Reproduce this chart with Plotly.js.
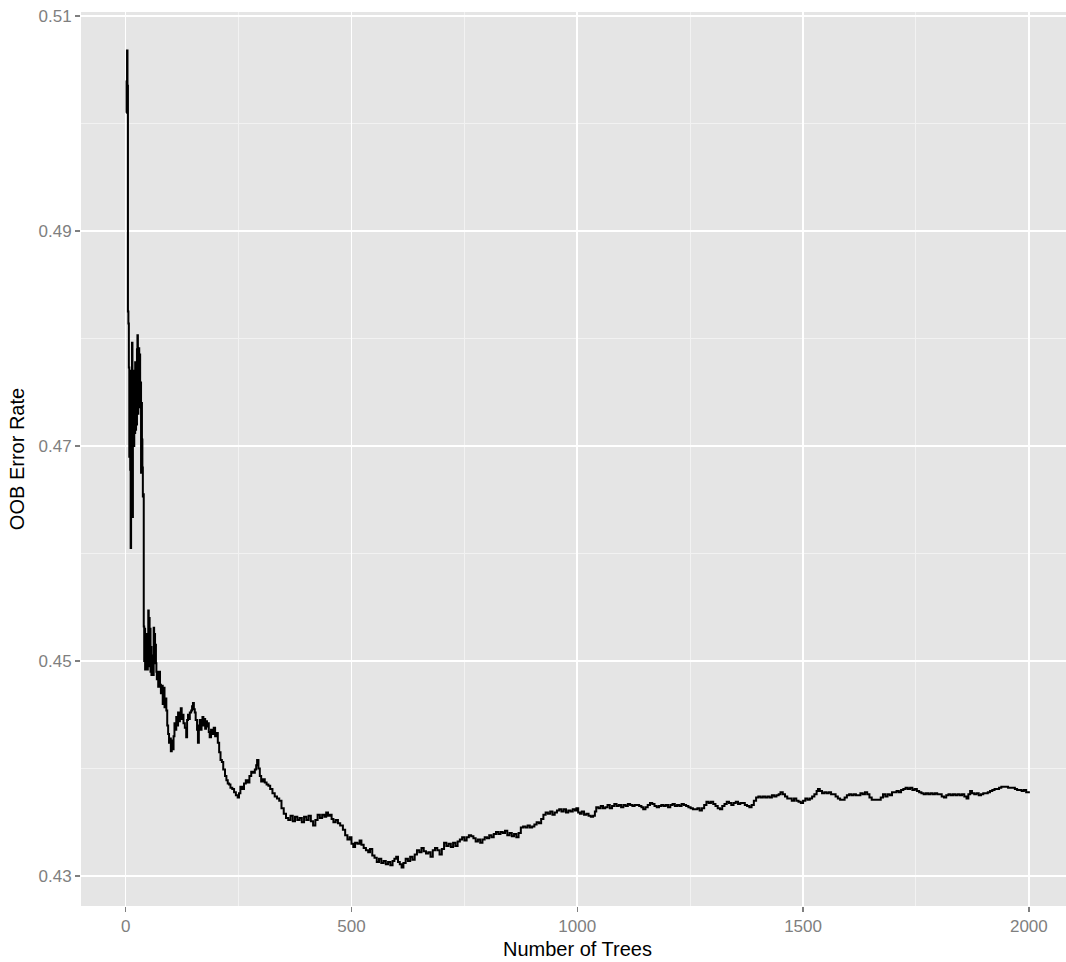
<!DOCTYPE html>
<html>
<head>
<meta charset="utf-8">
<script src="https://cdn.plot.ly/plotly-3.0.1.min.js"></script>
<style>
html, body { margin: 0; padding: 0; overflow: hidden; background: #ffffff; }
#chart { width: 1074px; height: 962px; }
</style>
</head>
<body>
<div id="chart"></div>
<script>
// Number of trees (x)
const trees = [
  1, 2, 3, 4, 5, 6, 7, 8, 9, 10,
  11, 12, 13, 14, 15, 16, 17, 18, 19, 20,
  21, 22, 23, 24, 25, 26, 27, 28, 29, 30,
  31, 32, 33, 34, 35, 36, 37, 38, 39, 40,
  41, 42, 43, 44, 45, 46, 47, 48, 49, 50,
  51, 52, 53, 54, 55, 56, 57, 58, 59, 60,
  61, 62, 63, 64, 65, 66, 67, 68, 69, 70,
  72, 74, 76, 78, 80, 82, 84, 86, 88, 90,
  92, 94, 96, 98, 100, 102, 104, 106, 108, 110,
  112, 114, 116, 118, 120, 122, 124, 126, 128, 131,
  134, 136, 138, 140, 142, 145, 147, 149, 151, 153,
  155, 158, 160, 162, 164, 166, 168, 170, 172, 174,
  176, 178, 180, 182, 184, 186, 189, 192, 195, 198,
  201, 204, 207, 210, 213, 216, 220, 223, 226, 229,
  232, 236, 240, 244, 248, 251, 254, 258, 262, 266,
  270, 274, 278, 282, 286, 289, 291, 294, 297, 300,
  304, 308, 312, 316, 320, 325, 330, 335, 340, 345,
  350, 355, 360, 365, 370, 375, 380, 385, 390, 395,
  400, 405, 410, 415, 420, 425, 430, 435, 440, 444,
  448, 452, 456, 460, 465, 470, 475, 481, 486, 491,
  496, 500, 504, 508, 513, 518, 522, 527, 532, 537,
  541, 546, 551, 556, 561, 566, 571, 576, 581, 586,
  591, 595, 599, 603, 607, 611, 615, 620, 625, 630,
  635, 640, 645, 650, 655, 660, 665, 670, 675, 680,
  685, 690, 695, 700, 705, 710, 715, 720, 725, 730,
  735, 740, 745, 750, 755, 760, 765, 770, 775, 780,
  785, 790, 795, 800, 805, 810, 815, 820, 825, 830,
  835, 840, 845, 850, 855, 860, 865, 870, 875, 880,
  885, 890, 895, 900, 905, 910, 915, 920, 925, 930,
  935, 940, 945, 950, 955, 960, 965, 970, 975, 980,
  985, 990, 995, 998, 1002, 1006, 1010, 1015, 1020, 1025,
  1030, 1035, 1039, 1042, 1047, 1052, 1057, 1062, 1067, 1072,
  1077, 1082, 1087, 1092, 1097, 1102, 1107, 1112, 1117, 1122,
  1127, 1132, 1137, 1142, 1146, 1151, 1156, 1161, 1166, 1171,
  1176, 1181, 1186, 1191, 1196, 1201, 1206, 1211, 1216, 1221,
  1226, 1231, 1236, 1241, 1246, 1251, 1256, 1261, 1266, 1271,
  1276, 1281, 1286, 1291, 1296, 1301, 1306, 1311, 1316, 1321,
  1326, 1331, 1336, 1341, 1346, 1351, 1356, 1361, 1366, 1371,
  1376, 1381, 1386, 1391, 1396, 1401, 1406, 1411, 1416, 1421,
  1426, 1431, 1436, 1441, 1446, 1450, 1455, 1460, 1465, 1470,
  1475, 1480, 1485, 1490, 1495, 1500, 1505, 1510, 1515, 1520,
  1525, 1530, 1533, 1537, 1542, 1547, 1552, 1557, 1562, 1567,
  1572, 1577, 1582, 1587, 1592, 1597, 1602, 1607, 1612, 1617,
  1622, 1627, 1632, 1637, 1642, 1647, 1652, 1657, 1662, 1667,
  1672, 1677, 1682, 1687, 1692, 1697, 1702, 1707, 1712, 1717,
  1722, 1727, 1732, 1737, 1742, 1747, 1752, 1757, 1762, 1767,
  1772, 1777, 1782, 1787, 1792, 1797, 1802, 1807, 1812, 1817,
  1822, 1827, 1832, 1837, 1842, 1847, 1852, 1857, 1862, 1866,
  1870, 1874, 1879, 1884, 1889, 1894, 1899, 1904, 1909, 1914,
  1919, 1924, 1929, 1934, 1939, 1944, 1949, 1954, 1959, 1964,
  1969, 1974, 1979, 1984, 1989, 1994, 2000
];

// OOB error rate (y)
const oobError = [
  0.5010, 0.5039, 0.5068, 0.5035, 0.4825, 0.4814, 0.4773, 0.4690, 0.4770, 0.4678,
  0.4605, 0.4740, 0.4685, 0.4796, 0.4634, 0.4720, 0.4760, 0.4700, 0.4770, 0.4712,
  0.4778, 0.4715, 0.4775, 0.4720, 0.4790, 0.4803, 0.4730, 0.4780, 0.4791, 0.4740,
  0.4785, 0.4736, 0.4759, 0.4675, 0.4740, 0.4706, 0.4680, 0.4653, 0.4655, 0.4532,
  0.4500, 0.4530, 0.4492, 0.4520, 0.4495, 0.4525, 0.4500, 0.4492, 0.4510, 0.4547,
  0.4500, 0.4540, 0.4495, 0.4530, 0.4490, 0.4513, 0.4487, 0.4505, 0.4490, 0.4500,
  0.4487, 0.4531, 0.4500, 0.4525, 0.4498, 0.4515, 0.4498, 0.4490, 0.4483, 0.4490,
  0.4476, 0.4490, 0.4478, 0.4470, 0.4477, 0.4460, 0.4475, 0.4457, 0.4465, 0.4454,
  0.4440, 0.4432, 0.4424, 0.4428, 0.4416, 0.4426, 0.4418, 0.4430, 0.4442, 0.4436,
  0.4448, 0.4440, 0.4452, 0.4444, 0.4448, 0.4456, 0.4446, 0.4450, 0.4442, 0.4438,
  0.4429, 0.4445, 0.4450, 0.4446, 0.4452, 0.4454, 0.4458, 0.4461, 0.4455, 0.4452,
  0.4445, 0.4436, 0.4424, 0.4440, 0.4445, 0.4436, 0.4443, 0.4448, 0.4440, 0.4446,
  0.4437, 0.4444, 0.4439, 0.4442, 0.4434, 0.4429, 0.4436, 0.4432, 0.4438, 0.4430,
  0.4433, 0.4424, 0.4415, 0.4408, 0.4406, 0.4399, 0.4393, 0.4389, 0.4386, 0.4385,
  0.4382, 0.4381, 0.4378, 0.4375, 0.4373, 0.4377, 0.4383, 0.4381, 0.4386, 0.4389,
  0.4387, 0.4393, 0.4397, 0.4396, 0.4399, 0.4403, 0.4408, 0.4400, 0.4393, 0.4388,
  0.4390, 0.4387, 0.4385, 0.4384, 0.4381, 0.4377, 0.4374, 0.4372, 0.4370, 0.4363,
  0.4358, 0.4354, 0.4352, 0.4356, 0.4351, 0.4355, 0.4352, 0.4354, 0.4350, 0.4355,
  0.4352, 0.4356, 0.4351, 0.4347, 0.4352, 0.4357, 0.4354, 0.4357, 0.4355, 0.4359,
  0.4356, 0.4357, 0.4353, 0.4350, 0.4352, 0.4349, 0.4347, 0.4343, 0.4338, 0.4334,
  0.4336, 0.4330, 0.4327, 0.4331, 0.4330, 0.4333, 0.4329, 0.4326, 0.4324, 0.4322,
  0.4325, 0.4319, 0.4317, 0.4313, 0.4316, 0.4312, 0.4314, 0.4311, 0.4313, 0.4310,
  0.4314, 0.4316, 0.4318, 0.4313, 0.4311, 0.4308, 0.4312, 0.4316, 0.4314, 0.4318,
  0.4315, 0.4320, 0.4324, 0.4322, 0.4326, 0.4323, 0.4321, 0.4322, 0.4318, 0.4324,
  0.4326, 0.4324, 0.4320, 0.4325, 0.4331, 0.4328, 0.4330, 0.4327, 0.4331, 0.4328,
  0.4332, 0.4334, 0.4336, 0.4333, 0.4336, 0.4338, 0.4337, 0.4335, 0.4332, 0.4334,
  0.4331, 0.4334, 0.4336, 0.4335, 0.4338, 0.4336, 0.4339, 0.4341, 0.4339, 0.4341,
  0.4340, 0.4342, 0.4338, 0.4340, 0.4337, 0.4339, 0.4336, 0.4340, 0.4345, 0.4346,
  0.4345, 0.4347, 0.4345, 0.4346, 0.4348, 0.4350, 0.4349, 0.4353, 0.4357, 0.4359,
  0.4358, 0.4360, 0.4357, 0.4359, 0.4361, 0.4362, 0.4360, 0.4362, 0.4359, 0.4361,
  0.4360, 0.4362, 0.4361, 0.4363, 0.4359, 0.4358, 0.4360, 0.4357, 0.4358, 0.4356,
  0.4355, 0.4356, 0.4360, 0.4364, 0.4363, 0.4365, 0.4363, 0.4364, 0.4366, 0.4363,
  0.4365, 0.4367, 0.4365, 0.4366, 0.4364, 0.4366, 0.4365, 0.4367, 0.4366, 0.4365,
  0.4366, 0.4366, 0.4365, 0.4364, 0.4362, 0.4364, 0.4366, 0.4368, 0.4367, 0.4365,
  0.4364, 0.4365, 0.4366, 0.4365, 0.4366, 0.4364, 0.4366, 0.4367, 0.4365, 0.4366,
  0.4365, 0.4367, 0.4366, 0.4365, 0.4364, 0.4363, 0.4362, 0.4362, 0.4363, 0.4361,
  0.4363, 0.4366, 0.4369, 0.4368, 0.4369, 0.4367, 0.4365, 0.4363, 0.4362, 0.4365,
  0.4367, 0.4369, 0.4368, 0.4366, 0.4368, 0.4369, 0.4367, 0.4368, 0.4368, 0.4366,
  0.4365, 0.4364, 0.4366, 0.4370, 0.4373, 0.4374, 0.4373, 0.4374, 0.4373, 0.4374,
  0.4373, 0.4375, 0.4374, 0.4375, 0.4376, 0.4378, 0.4376, 0.4374, 0.4372, 0.4372,
  0.4370, 0.4372, 0.4370, 0.4369, 0.4368, 0.4370, 0.4372, 0.4371, 0.4372, 0.4374,
  0.4376, 0.4379, 0.4381, 0.4379, 0.4377, 0.4378, 0.4377, 0.4378, 0.4376, 0.4376,
  0.4374, 0.4372, 0.4371, 0.4371, 0.4373, 0.4375, 0.4376, 0.4375, 0.4376, 0.4375,
  0.4375, 0.4377, 0.4376, 0.4378, 0.4376, 0.4373, 0.4371, 0.4371, 0.4371, 0.4371,
  0.4373, 0.4376, 0.4374, 0.4376, 0.4375, 0.4378, 0.4378, 0.4379, 0.4378, 0.4380,
  0.4381, 0.4382, 0.4381, 0.4382, 0.4380, 0.4381, 0.4379, 0.4378, 0.4377, 0.4376,
  0.4377, 0.4376, 0.4377, 0.4376, 0.4377, 0.4376, 0.4376, 0.4374, 0.4373, 0.4375,
  0.4376, 0.4375, 0.4376, 0.4375, 0.4376, 0.4375, 0.4376, 0.4374, 0.4372, 0.4376,
  0.4379, 0.4377, 0.4376, 0.4377, 0.4375, 0.4376, 0.4377, 0.4377, 0.4378, 0.4379,
  0.4380, 0.4381, 0.4381, 0.4382, 0.4383, 0.4383, 0.4383, 0.4382, 0.4382, 0.4382,
  0.4381, 0.4380, 0.4380, 0.4379, 0.4380, 0.4378, 0.4377
];

const xTickVals = [0, 500, 1000, 1500, 2000];
const xTickText = ['0', '500', '1000', '1500', '2000'];
const yTickVals = [0.43, 0.45, 0.47, 0.49, 0.51];
const yTickText = ['0.43', '0.45', '0.47', '0.49', '0.51'];

const trace = {
  x: trees,
  y: oobError,
  type: 'scatter',
  mode: 'lines',
  line: { color: '#000000', width: 2, shape: 'hv' },
  hoverinfo: 'x+y'
};

const FONT = 'Liberation Sans, Arial, sans-serif';

const layout = {
  width: 1074,
  height: 962,
  margin: { l: 81, r: 0, t: 12, b: 56, pad: 0 },
  paper_bgcolor: '#ffffff',
  plot_bgcolor: '#E5E5E5',
  showlegend: false,
  font: { family: FONT, color: '#7F7F7F', size: 17 },
  xaxis: {
    range: [-98.95, 2099.95],
    tickmode: 'array',
    tickvals: xTickVals,
    ticktext: xTickText,
    ticks: 'outside',
    ticklen: 5,
    tickwidth: 1.3,
    tickcolor: '#7F7F7F',
    tickfont: { family: FONT, size: 17, color: '#7F7F7F' },
    showgrid: true,
    gridcolor: '#FFFFFF',
    gridwidth: 1.6,
    minor: { dtick: 250, tick0: 0, showgrid: true, gridcolor: '#F2F2F2', gridwidth: 1, ticks: '' },
    zeroline: false,
    showline: false,
    automargin: false,
    title: { text: 'Number of Trees', font: { family: FONT, size: 20, color: '#000000' }, standoff: 6 }
  },
  yaxis: {
    range: [0.427209, 0.510372],
    tickmode: 'array',
    tickvals: yTickVals,
    ticktext: yTickText,
    ticks: 'outside',
    ticklen: 5,
    tickwidth: 1.3,
    tickcolor: '#7F7F7F',
    tickfont: { family: FONT, size: 17, color: '#7F7F7F' },
    showgrid: true,
    gridcolor: '#FFFFFF',
    gridwidth: 1.6,
    minor: { dtick: 0.01, tick0: 0.43, showgrid: true, gridcolor: '#F2F2F2', gridwidth: 1, ticks: '' },
    zeroline: false,
    showline: false,
    automargin: false,
    title: { text: 'OOB Error Rate', font: { family: FONT, size: 20, color: '#000000' }, standoff: 8 }
  }
};

Plotly.newPlot('chart', [trace], layout, { displayModeBar: false, staticPlot: true });
</script>
</body>
</html>
